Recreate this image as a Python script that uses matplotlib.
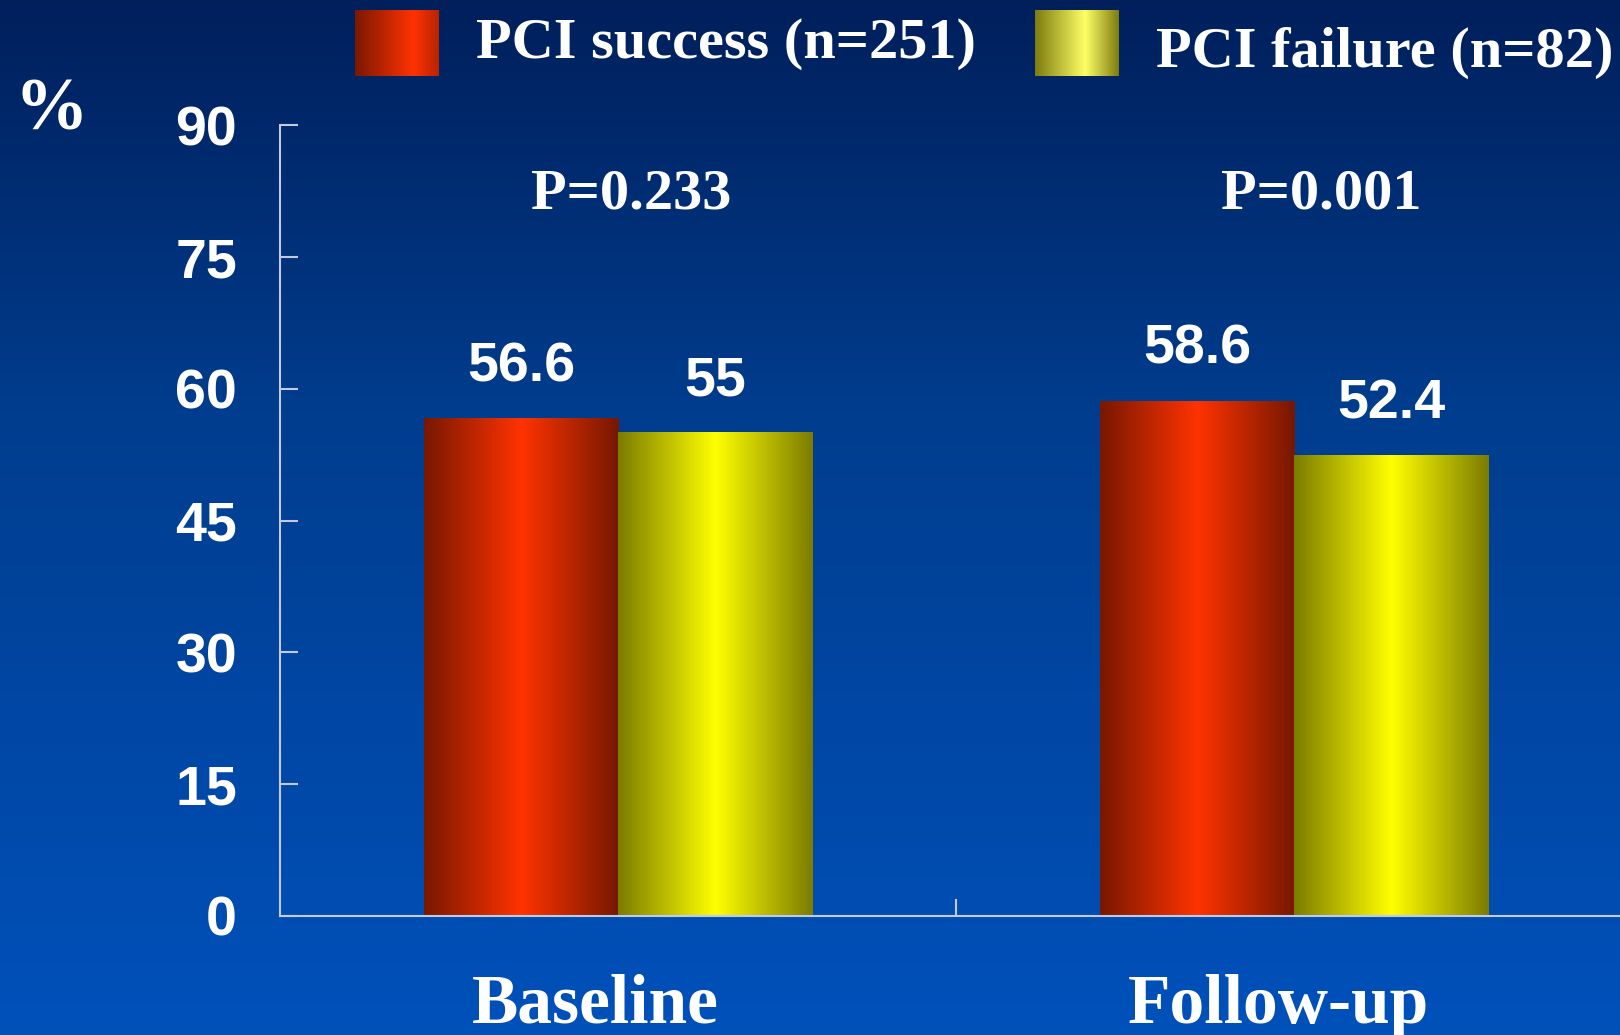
import numpy as np
import matplotlib
matplotlib.use("Agg")

import matplotlib.pyplot as plt
from matplotlib.colors import LinearSegmentedColormap
from matplotlib.transforms import blended_transform_factory


# ---------------- data ----------------

categories = ["Baseline", "Follow-up"]

success_values = [56.6, 58.6]

failure_values = [55.0, 52.4]

p_labels = ["P=0.233", "P=0.001"]

legend_labels = ["PCI success (n=251)", "PCI failure (n=82)"]

y_ticks = [0, 15, 30, 45, 60, 75, 90]


# ---------------- styles ----------------

SERIF = "Liberation Serif"
SANS = "Liberation Sans"
AXIS_COLOR = "#c4c9e2"
BAR_WIDTH = 0.287

red_cmap = LinearSegmentedColormap.from_list(
    "red_bar",
    [(0.0, "#781800"), (0.5, "#ff3300"), (1.0, "#761800")]
)

yellow_cmap = LinearSegmentedColormap.from_list(
    "yellow_bar",
    [(0.0, "#7c7c00"), (0.5, "#ffff00"), (1.0, "#7c7c00")]
)

red_key_cmap = LinearSegmentedColormap.from_list(
    "red_key",
    [(0.0, "#7a1800"), (0.7, "#ff3300"), (1.0, "#b82400")]
)

yellow_key_cmap = LinearSegmentedColormap.from_list(
    "yellow_key",
    [(0.0, "#7c7c10"), (0.6, "#ffff66"), (1.0, "#7c7c10")]
)

bg_cmap = LinearSegmentedColormap.from_list(
    "background",
    [(0.0, "#001f5b"), (0.4, "#003d8e"), (1.0, "#0051bb")]
)

ramp = np.linspace(0, 1, 256)


fig = plt.figure(figsize=(16.2, 10.35), dpi=100)

# vertical background gradient
bg = fig.add_axes([0, 0, 1, 1], zorder=0)
bg.imshow(
    ramp.reshape(-1, 1),
    aspect="auto",
    cmap=bg_cmap,
    extent=[0, 1, 0, 1],
    origin="upper"
)
bg.axis("off")


# ---------------- main axes ----------------

ax = fig.add_axes([0.1728, 0.115, 0.835, 0.764], zorder=1)
ax.patch.set_alpha(0)

centers = np.arange(len(categories)) + 0.5

success_bars = ax.bar(
    centers - BAR_WIDTH / 2,
    success_values,
    BAR_WIDTH,
    color="none"
)

failure_bars = ax.bar(
    centers + BAR_WIDTH / 2,
    failure_values,
    BAR_WIDTH,
    color="none"
)


def shade_bars(bars, cmap):
    # fill each bar with a left-to-right cylinder shading
    for bar in bars:
        x0 = bar.get_x()
        ax.imshow(
            ramp.reshape(1, -1),
            aspect="auto",
            cmap=cmap,
            extent=[x0, x0 + bar.get_width(), 0, bar.get_height()],
            zorder=2
        )


shade_bars(success_bars, red_cmap)
shade_bars(failure_bars, yellow_cmap)

ax.set_xlim(0, 2)
ax.set_ylim(0, 90)

for side in ["top", "right"]:
    ax.spines[side].set_visible(False)

for side in ["left", "bottom"]:
    ax.spines[side].set_color(AXIS_COLOR)
    ax.spines[side].set_linewidth(1.5)

ax.set_yticks(y_ticks)
ax.set_xticks([1.0])
ax.set_xticklabels([""])

ax.tick_params(
    axis="y",
    direction="in",
    length=13,
    width=1.5,
    color=AXIS_COLOR,
    labelcolor="white",
    labelsize=40,
    pad=31
)

ax.tick_params(
    axis="x",
    direction="in",
    length=12,
    width=1.5,
    color=AXIS_COLOR
)

for label in ax.get_yticklabels():
    label.set_fontfamily(SANS)
    label.set_fontweight("bold")


# value labels above bars
for bars, values in [(success_bars, success_values), (failure_bars, failure_values)]:
    for bar, value in zip(bars, values):
        ax.annotate(
            f"{value:g}",
            (bar.get_x() + bar.get_width() / 2, bar.get_height()),
            xytext=(0, 37),
            textcoords="offset points",
            ha="center",
            va="center",
            fontsize=40,
            fontweight="bold",
            fontfamily=SANS,
            color="white"
        )

# p-values per group
for x, text in zip([0.52, 1.54], p_labels):
    ax.text(
        x, 82.1, text,
        ha="center",
        va="center",
        fontsize=42,
        fontweight="bold",
        fontfamily=SERIF,
        color="white"
    )

# category names under the axis
cat_transform = blended_transform_factory(ax.transData, fig.transFigure)

for x, name in zip([0.467, 1.477], categories):
    ax.text(
        x, 0.0116, name,
        transform=cat_transform,
        ha="center",
        va="baseline",
        fontsize=50,
        fontweight="bold",
        fontfamily=SERIF,
        color="white",
        clip_on=False
    )

fig.text(
    14 / 1620, 1 - 112 / 1035, "%",
    ha="left",
    va="center",
    fontsize=53,
    fontweight="bold",
    fontfamily=SERIF,
    color="white"
)


# ---------------- legend ----------------

legend_items = [
    (355, 476, 44, red_key_cmap, legend_labels[0]),
    (1035, 1156, 53, yellow_key_cmap, legend_labels[1]),
]

for key_left, text_left, text_y, cmap, label in legend_items:
    key_ax = fig.add_axes(
        [key_left / 1620, 1 - 76 / 1035, 84 / 1620, 66 / 1035],
        zorder=2
    )
    key_ax.imshow(ramp.reshape(1, -1), aspect="auto", cmap=cmap)
    key_ax.axis("off")

    fig.text(
        text_left / 1620, 1 - text_y / 1035, label,
        ha="left",
        va="center",
        fontsize=42,
        fontweight="bold",
        fontfamily=SERIF,
        color="white"
    )

fig.savefig("out.png", dpi=100)
